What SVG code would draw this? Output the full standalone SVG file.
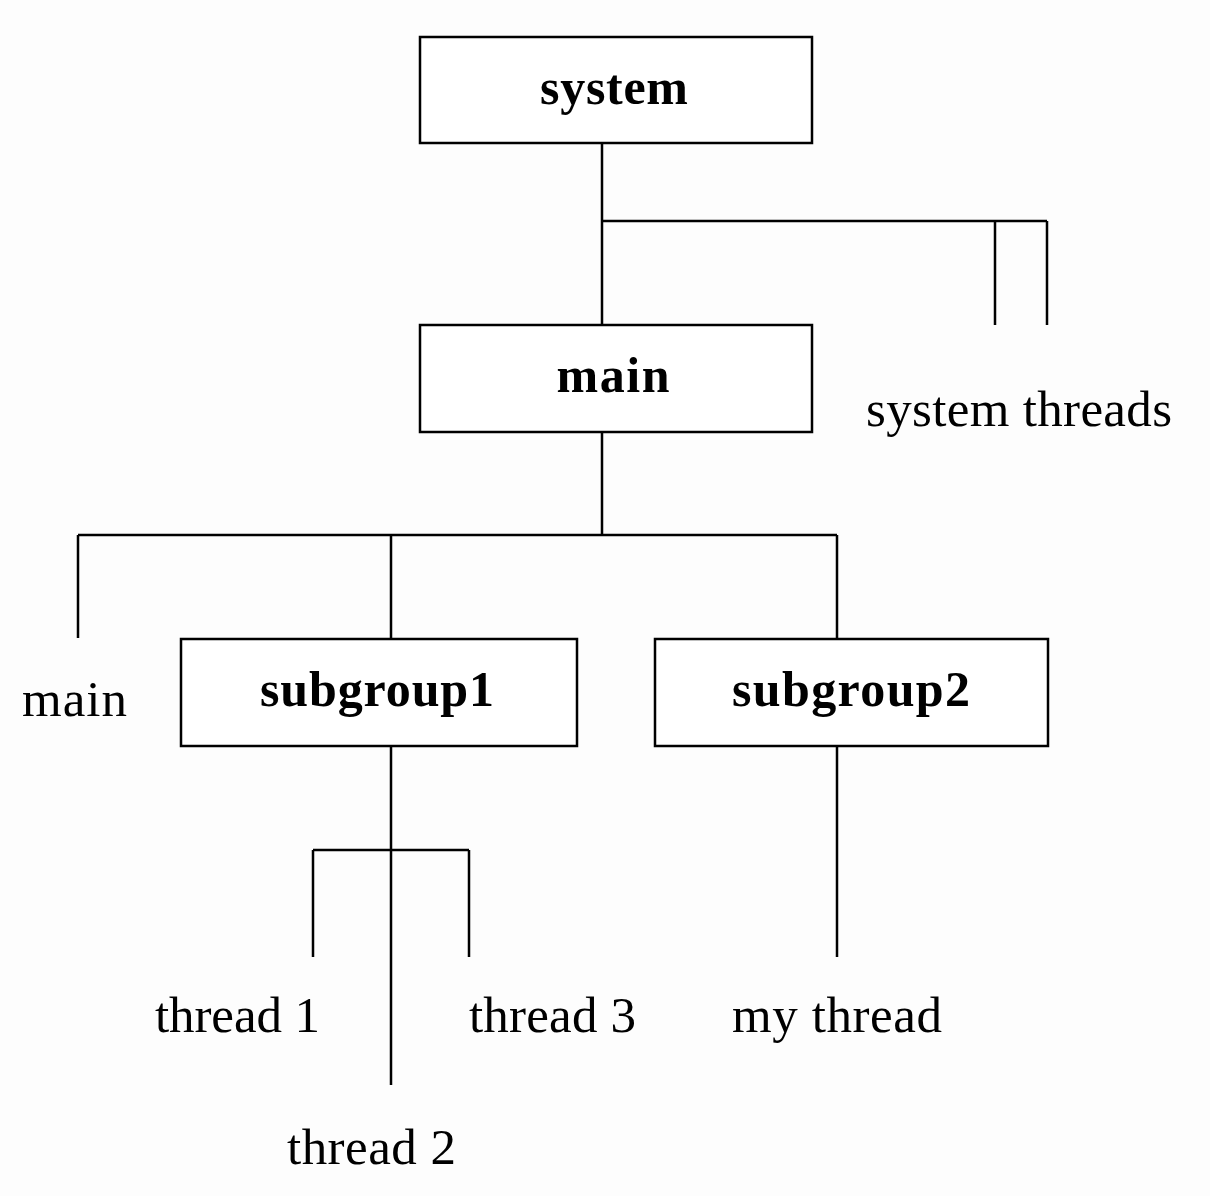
<svg xmlns="http://www.w3.org/2000/svg" width="1210" height="1196" viewBox="0 0 1210 1196">
<style>
.box{fill:#fff;stroke:#000;stroke-width:2.5}
.ln{fill:none;stroke:#000;stroke-width:2.5}
.b{font-family:"Liberation Serif",serif;font-weight:bold;font-size:50px;fill:#000}
.r{font-family:"Liberation Serif",serif;font-size:51px;fill:#000}
</style>
<rect width="1210" height="1196" fill="#fdfdfd"/>
<g id="connectors">
<path class="ln" d="M602 143V325M602 221H1047M995 221V325M1047 221V325"/>
<path class="ln" d="M602 432V535M78 535H837M78 535V638M391 535V639M837 535V639"/>
<path class="ln" d="M391 746V1085M313 850H469M313 850V957M469 850V957"/>
<path class="ln" d="M837 746V957"/>
</g>
<g id="system"><rect class="box" x="420" y="37" width="392" height="106"/><text class="b" x="614" y="104" text-anchor="middle" textLength="148">system</text></g>
<g id="main"><rect class="box" x="420" y="325" width="392" height="107"/><text class="b" x="613" y="392" text-anchor="middle" textLength="113">main</text></g>
<g id="subgroup1"><rect class="box" x="181" y="639" width="396" height="107"/><text class="b" x="377" y="706" text-anchor="middle" textLength="234">subgroup1</text></g>
<g id="subgroup2"><rect class="box" x="655" y="639" width="393" height="107"/><text class="b" x="851" y="706" text-anchor="middle" textLength="238">subgroup2</text></g>
<g id="system-threads"><text class="r" x="866" y="426" textLength="306">system threads</text></g>
<g id="main-thread"><text class="r" x="22" y="716" textLength="105">main</text></g>
<g id="thread1"><text class="r" x="155" y="1032" textLength="165">thread 1</text></g>
<g id="thread2"><text class="r" x="287" y="1164" textLength="169">thread 2</text></g>
<g id="thread3"><text class="r" x="469" y="1032" textLength="167">thread 3</text></g>
<g id="my-thread"><text class="r" x="732" y="1032" textLength="210">my thread</text></g>
</svg>
